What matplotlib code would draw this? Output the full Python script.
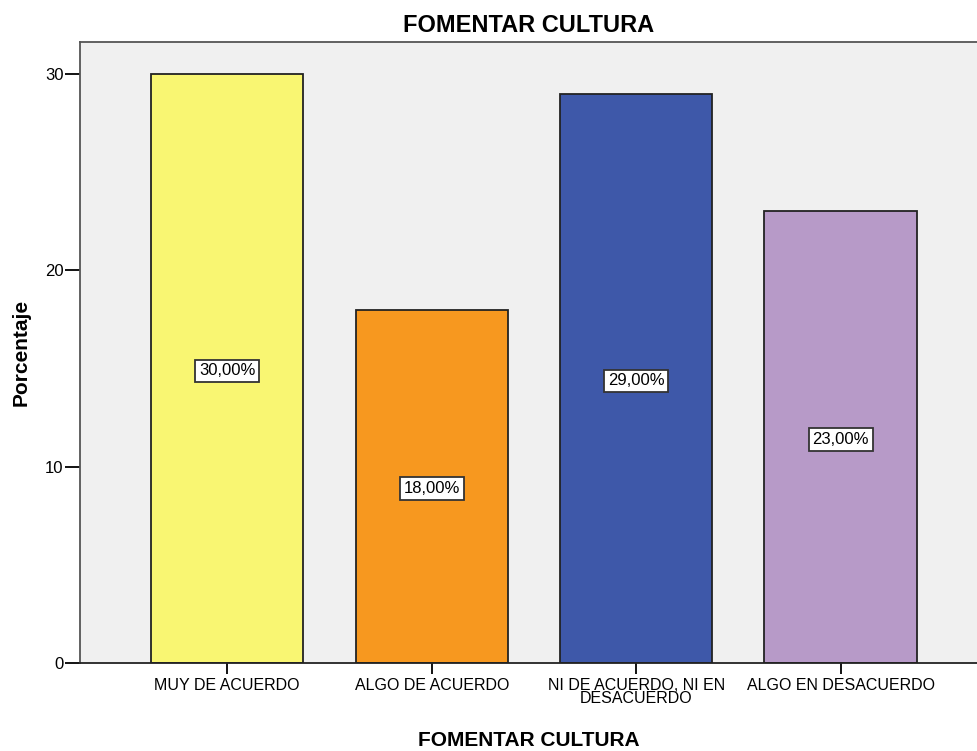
import numpy as np
import matplotlib
matplotlib.use("Agg")
import matplotlib.pyplot as plt

# datos del grafico
categorias = ["MUY DE ACUERDO", "ALGO DE ACUERDO",
              "NI DE ACUERDO, NI EN\nDESACUERDO", "ALGO EN DESACUERDO"]
porcentajes = [30.0, 18.0, 29.0, 23.0]
etiquetas = ["30,00%", "18,00%", "29,00%", "23,00%"]
colores = ["#F9F672", "#F7981F", "#3E58A9", "#B79AC8"]
yticks = [0, 10, 20, 30]

plt.rcParams['font.family'] = ['Liberation Sans', 'DejaVu Sans']

fig = plt.figure(figsize=(9.77, 7.51), dpi=100)
ax = fig.add_axes([0.0819, 0.1172, 0.9181, 0.8268])
ax.set_facecolor("#F0F0F0")

x = np.arange(len(categorias))
ax.bar(x, porcentajes, width=0.745, color=colores, edgecolor="#222222", linewidth=1.3, zorder=2)

for xi, v, lab in zip(x, porcentajes, etiquetas):
    ax.text(xi, v / 2 - 0.12, lab, ha="center", va="center", fontsize=12, zorder=3,
            bbox=dict(boxstyle="square,pad=0.22", facecolor="white", edgecolor="#333333", linewidth=1.3))

ax.set_xlim(-0.72, 3.667)
ax.set_ylim(0, 31.63)
ax.set_yticks(yticks)
ax.set_yticklabels([str(t) for t in yticks], fontsize=12)
ax.set_xticks(x)
ax.set_xticklabels(categorias, fontsize=11.5, linespacing=0.8)
ax.tick_params(axis="y", length=11, width=1.3, direction="out", pad=1)
ax.tick_params(axis="x", length=8, width=1.3, direction="out", pad=3)

for s in ["top", "left"]:
    ax.spines[s].set_color("#555555")
    ax.spines[s].set_linewidth(1.3)
ax.spines["right"].set_visible(False)
ax.spines["bottom"].set_color("#222222")
ax.spines["bottom"].set_linewidth(1.3)

ax.set_title("FOMENTAR CULTURA", fontsize=17, fontweight="bold", pad=7)
ax.set_xlabel("FOMENTAR CULTURA", fontsize=15, fontweight="bold", labelpad=18)
ax.set_ylabel("Porcentaje", fontsize=15, fontweight="bold", labelpad=10)

fig.savefig("out.png", dpi=100)
